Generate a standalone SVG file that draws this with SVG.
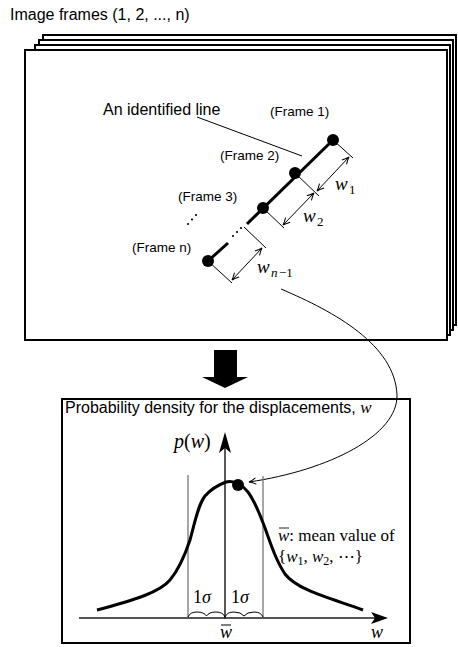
<svg xmlns="http://www.w3.org/2000/svg" width="458" height="647" viewBox="0 0 458 647">
<style>
.frame{fill:#fff;stroke:#000;stroke-width:2}
.sans{font-family:"Liberation Sans",Arial,sans-serif;fill:#000}
.math{font-family:"Liberation Serif","Times New Roman",serif;font-style:italic;fill:#000}
.rm{font-family:"Liberation Serif","Times New Roman",serif;fill:#000}
.thin{stroke:#000;stroke-width:1;fill:none}
.gray{stroke:#777;stroke-width:1.3;fill:none}
</style>
<defs>
<marker id="ah" viewBox="-8 -5 10 10" refX="0" refY="0" markerWidth="10" markerHeight="10" markerUnits="userSpaceOnUse" orient="auto-start-reverse">
<path d="M-7,-3.2 Q-2.5,-0.6 0,0 Q-2.5,0.6 -7,3.2" fill="none" stroke="#000" stroke-width="1"/>
</marker>
</defs>
<rect width="458" height="647" fill="#fff"/>
<text class="sans" x="10" y="20" font-size="16">Image frames (1, 2, ..., n)</text>
<g id="frames">
<rect class="frame" x="43" y="35" width="413" height="290"/>
<rect class="frame" x="39" y="40" width="414" height="290"/>
<rect class="frame" x="35" y="45" width="415" height="290"/>
<rect class="frame" x="25" y="50" width="422" height="290"/>
</g>
<g id="line-annotation">
<text class="sans" x="103" y="115" font-size="16">An identified line</text>
<line class="thin" x1="197" y1="117" x2="302" y2="156"/>
</g>
<g id="frame-labels" class="sans" font-size="13.5">
<text x="270" y="116">(Frame 1)</text>
<text x="220" y="160">(Frame 2)</text>
<text x="178" y="201">(Frame 3)</text>
<text x="132" y="252">(Frame n)</text>
</g>
<g id="vdots" fill="#000">
<circle cx="188" cy="224" r="1.1"/><circle cx="192" cy="219.5" r="1.1"/><circle cx="196" cy="215" r="1.1"/>
</g>
<g id="identified-line">
<line x1="333" y1="140" x2="247" y2="224" stroke="#000" stroke-width="3"/>
<line x1="228" y1="243" x2="208" y2="261" stroke="#000" stroke-width="3"/>
<circle cx="233" cy="236" r="1.1"/><circle cx="237" cy="232" r="1.1"/><circle cx="241" cy="228" r="1.1"/>
<circle id="frame1" cx="333" cy="140" r="6"/>
<circle id="frame2" cx="295" cy="173" r="6"/>
<circle id="frame3" cx="263" cy="208" r="6"/>
<circle id="framen" cx="208" cy="261" r="6"/>
<line class="thin" x1="333" y1="140" x2="353" y2="158"/>
<line class="thin" x1="295" y1="173" x2="319" y2="196"/>
<line class="thin" x1="263" y1="208" x2="284" y2="228"/>
<line class="thin" x1="244" y1="227" x2="266" y2="248"/>
<line class="thin" x1="208" y1="261" x2="232" y2="283"/>
</g>
<g id="connectors">
<line class="thin" x1="349" y1="157" x2="317" y2="191" marker-start="url(#ah)" marker-end="url(#ah)"/>
<line class="thin" x1="314" y1="193" x2="283" y2="225" marker-start="url(#ah)" marker-end="url(#ah)"/>
<line class="thin" x1="262" y1="248" x2="232" y2="280" marker-start="url(#ah)" marker-end="url(#ah)"/>
<path class="thin" d="M281 289 C335 312 395 345 397 395 C398 435 330 470 249 482" marker-end="url(#ah)"/>
</g>
<g id="w-labels">
<text class="math" x="335" y="190" font-size="19">w</text><text class="rm" x="349" y="194" font-size="13">1</text>
<text class="math" x="303" y="222" font-size="19">w</text><text class="rm" x="317" y="226" font-size="13">2</text>
<text class="math" x="257" y="273" font-size="19">w</text><text class="math" x="271" y="277" font-size="13">n</text><text class="rm" x="279" y="277" font-size="13">−1</text>
</g>
<g id="big-arrow">
<path d="M214 350 H237 V377 H248 L225 388 L202 377 H214 Z" fill="#000"/>
</g>
<g id="density-box">
<rect x="62" y="399" width="348" height="244" fill="none" stroke="#000" stroke-width="2"/>
<text class="sans" x="65" y="413" font-size="16">Probability density for the displacements, <tspan class="math" font-size="17">w</tspan></text>
</g>
<g id="plot">
<line class="gray" x1="188" y1="475" x2="188" y2="618"/>
<line class="gray" x1="263" y1="476" x2="263" y2="618"/>
<line x1="79" y1="618" x2="380" y2="618" stroke="#555" stroke-width="2"/>
<path d="M388 618 L371 612 L375 618 L371 624 Z" fill="#000"/>
<line x1="225" y1="619" x2="225" y2="445" stroke="#222" stroke-width="1.5"/>
<path d="M225 432 L231 453 L225 448 L219 453 Z" fill="#000"/>
<text class="rm" x="174" y="448" font-size="20"><tspan class="math">p</tspan>(<tspan class="math">w</tspan>)</text>
<path d="M97 610 C135 600 160 592 170 580 C180 568 185 555 190 540 C195 522 198 505 205 496 C212 488 218 485 226 482 C234 480 242 485 248 492 C256 503 260 515 265 528 C272 548 277 562 285 574 C297 590 330 598 363 610" fill="none" stroke="#000" stroke-width="3"/>
<circle cx="238" cy="485" r="6" fill="#000"/>
<path class="thin" d="M188 617 Q190 612 197 612 Q204 612 206.5 616 Q209 612 216 612 Q223 612 225 617"/>
<path class="thin" d="M225 617 Q227 612 234 612 Q241 612 244 616 Q247 612 254 612 Q261 612 263 617"/>
<text class="rm" x="193" y="603" font-size="18">1<tspan class="math">σ</tspan></text>
<text class="rm" x="231" y="603" font-size="18">1<tspan class="math">σ</tspan></text>
<text class="math" x="220" y="638" font-size="18">w</text>
<line x1="221" y1="625" x2="231" y2="625" stroke="#000" stroke-width="1"/>
<text class="math" x="371" y="638" font-size="18">w</text>
<text class="rm" x="278" y="541" font-size="17" fill="#222"><tspan class="math">w</tspan>: mean value of</text>
<line x1="279" y1="528" x2="289" y2="528" stroke="#222" stroke-width="1"/>
<text class="rm" x="278" y="562" font-size="17" fill="#222">{<tspan class="math">w</tspan><tspan font-size="12" dy="3">1</tspan><tspan dy="-3">, </tspan><tspan class="math">w</tspan><tspan font-size="12" dy="3">2</tspan><tspan dy="-3">, ⋯}</tspan></text>
</g>
</svg>
